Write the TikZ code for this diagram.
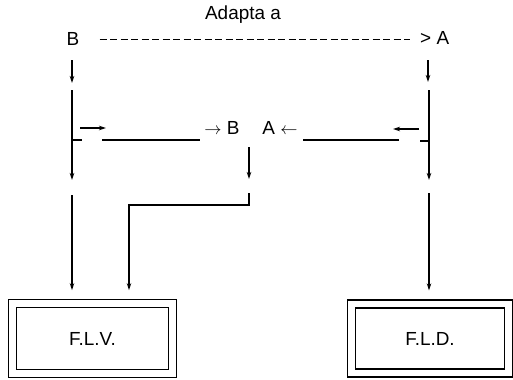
\documentclass[tikz,border=0pt]{standalone}
\usepackage{fontspec}
\setmainfont{Liberation Sans}
\usetikzlibrary{arrows.meta, positioning, calc}

\begin{document}
\begin{tikzpicture}[
    x=1bp, y=-1bp,
    font=\fontsize{19}{22}\selectfont,
    >={Stealth[length=7bp, width=4.5bp]},
    lbl/.style={
        inner sep=1pt, text=black
    },
    flow/.style={
        ->, line width=1.3bp, draw=black
    },
    wire/.style={
        line width=1.2bp, draw=black
    },
    dashline/.style={
        line width=0.9bp, draw=black, dash pattern=on 7bp off 3.5bp
    },
    filebox/.style={
        draw=black, double, double distance=6.8bp, line width=1.3bp,
        inner sep=0pt, align=center
    }
]

    % Frame
    \useasboundingbox (0,0) rectangle (513,379);

    % Title
    \node[lbl] (title) at (243,15) {Adapta a};

    % Top labels
    \node[lbl] (topB) at (73,39) {B};
    \node[lbl, anchor=west] (topA) at (419,38) {> A};
    \draw[dashline] ([xshift=19bp]topB.east) coordinate (dashL) -- ([xshift=-9bp]topA.west |- dashL);

    % Middle labels
    \node[lbl] (midB) at (222,128) {$\rightarrow$ B};
    \node[lbl] (midA) at (280,128) {A $\leftarrow$};

    % Columns
    \coordinate (lTop) at (72,90);
    \coordinate (lMid) at (72,180);
    \coordinate (lLow) at (72,195);
    \coordinate (rTop) at (429,90);
    \coordinate (rMid) at (429,180);
    \coordinate (rLow) at (429,193);

    % File boxes
    \node[filebox, minimum width=159.5bp, minimum height=69.5bp] (flv) at (92.5,338.5) {F.L.V.};
    \node[filebox, minimum width=157bp, minimum height=69bp] (fld) at (430,338.5) {F.L.D.};

    % Short arrows under B and A
    \draw[flow] (72,60) -- (72,83);
    \draw[flow] (428,60) -- (428,82);

    % Left branch
    \draw[flow] (lTop) -- (lMid);
    \draw[wire] (72,140) -- ++(10,0);
    \draw[flow] (80,128) -- (106,128);
    \draw[wire] (102,140) -- (200,140);

    % Right branch
    \draw[flow] (rTop) -- (rMid);
    \draw[wire] (429,141) -- ++(-9,0);
    \draw[flow] (419,129) -- (393,129);
    \draw[wire] (399,140) -- (303,140);

    % From middle down to F.L.V.
    \draw[flow] (249,147) -- (249,179);
    \draw[flow] (249,193) -- (249,205) -| ([yshift=13bp]flv.north -| 129,0);

    % Down to the files
    \draw[flow] (lLow) -- ([yshift=13bp]flv.north -| lLow);
    \draw[flow] (rLow) -- ([yshift=13bp]fld.north -| rLow);

\end{tikzpicture}
\end{document}
